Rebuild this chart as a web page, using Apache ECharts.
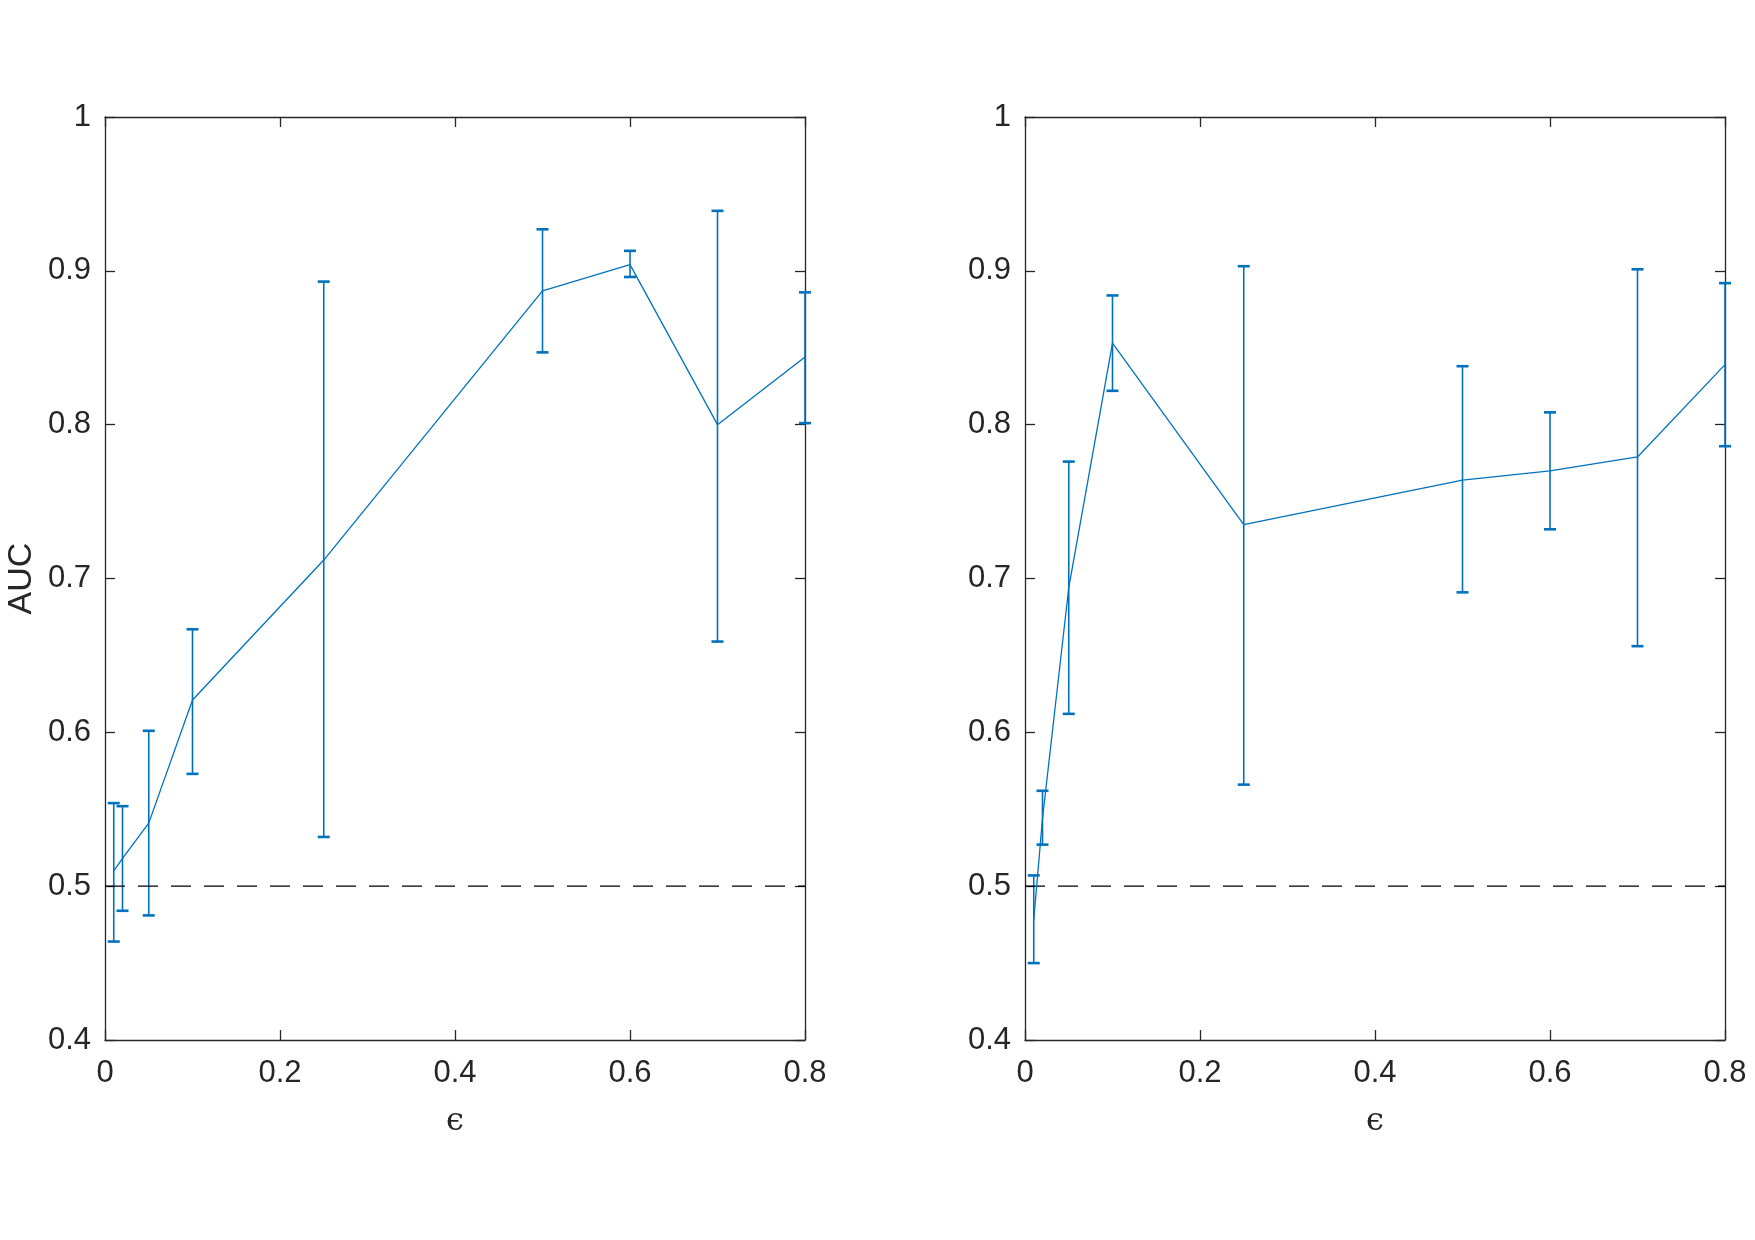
<!DOCTYPE html>
<html>
<head>
<meta charset="utf-8">
<title>AUC vs epsilon</title>
<script src="https://cdn.jsdelivr.net/npm/echarts@6/dist/echarts.min.js"></script>
<style>
    html, body { margin: 0; padding: 0; background: #fff; }
    #main { width: 1755px; height: 1240px; }
</style>
</head>
<body>
<div id="main"></div>
<script>
// data
var epsilon = [0.01, 0.02, 0.05, 0.1, 0.25, 0.5, 0.6, 0.7, 0.8]

var leftMean = [0.510, 0.518, 0.541, 0.621, 0.712, 0.887, 0.904, 0.800, 0.844]
var leftLow = [0.464, 0.484, 0.481, 0.573, 0.532, 0.847, 0.896, 0.659, 0.801]
var leftHigh = [0.554, 0.552, 0.601, 0.667, 0.893, 0.927, 0.913, 0.939, 0.886]

var rightMean = [0.478, 0.544, 0.694, 0.853, 0.735, 0.764, 0.770, 0.779, 0.839]
var rightLow = [0.450, 0.527, 0.612, 0.822, 0.566, 0.691, 0.732, 0.656, 0.786]
var rightHigh = [0.507, 0.562, 0.776, 0.884, 0.903, 0.838, 0.808, 0.901, 0.892]

var chanceLevel = 0.5
var xTicks = [0, 0.2, 0.4, 0.6, 0.8]
var yTicks = [0.4, 0.5, 0.6, 0.7, 0.8, 0.9, 1]

;(function () {
    var blue = '#0072BD'
    var axisColor = '#262626'
    var font = '"Liberation Sans", Arial, Helvetica, sans-serif'

    function pairs(xs, ys) {
        return xs.map(function (x, i) { return [x, ys[i]] })
    }

    function bars(xs, lo, hi) {
        return xs.map(function (x, i) { return [x, lo[i], hi[i]] })
    }

    function errorBarItem(params, api) {
        var x = api.value(0)
        var lo = api.coord([x, api.value(1)])
        var hi = api.coord([x, api.value(2)])
        var half = 6
        return {
            type: 'group',
            children: [
                {type: 'line', shape: {x1: lo[0], y1: lo[1], x2: hi[0], y2: hi[1]},
                    style: {stroke: blue, lineWidth: 1.6}},
                {type: 'line', shape: {x1: hi[0] - half, y1: hi[1], x2: hi[0] + half, y2: hi[1]},
                    style: {stroke: blue, lineWidth: 2.6}},
                {type: 'line', shape: {x1: lo[0] - half, y1: lo[1], x2: lo[0] + half, y2: lo[1]},
                    style: {stroke: blue, lineWidth: 2.6}}
            ]
        }
    }

    function xAxisFor(grid, pos, withName) {
        return {
            type: 'value',
            gridIndex: grid,
            position: pos,
            min: xTicks[0],
            max: xTicks[xTicks.length - 1],
            interval: 0.2,
            name: withName ? '\u03F5' : '',
            nameLocation: 'middle',
            nameGap: 66,
            nameTextStyle: {fontFamily: '"DejaVu Serif", "Liberation Serif", serif', fontSize: 32, color: axisColor},
            axisLine: {show: true, onZero: false, lineStyle: {color: axisColor, width: 1.3}},
            axisTick: {show: true, inside: true, length: 10, lineStyle: {color: axisColor, width: 1.3}},
            axisLabel: {show: pos === 'bottom', margin: 18, fontSize: 31, fontFamily: font, color: axisColor},
            splitLine: {show: false}
        }
    }

    function yAxisFor(grid, pos, withName) {
        return {
            type: 'value',
            gridIndex: grid,
            position: pos,
            min: yTicks[0],
            max: yTicks[yTicks.length - 1],
            interval: 0.1,
            name: withName ? 'AUC' : '',
            nameLocation: 'middle',
            nameGap: 66,
            nameRotate: 90,
            nameTextStyle: {fontFamily: font, fontSize: 34, color: axisColor},
            axisLine: {show: true, onZero: false, lineStyle: {color: axisColor, width: 1.3}},
            axisTick: {show: true, inside: true, length: 10, lineStyle: {color: axisColor, width: 1.3}},
            axisLabel: {show: pos === 'left', margin: 14, fontSize: 31, fontFamily: font, color: axisColor},
            splitLine: {show: false}
        }
    }

    function panelSeries(idx, mean, low, high) {
        return [
            {
                type: 'line',
                xAxisIndex: idx * 2,
                yAxisIndex: idx * 2,
                data: [[xTicks[0], chanceLevel], [xTicks[xTicks.length - 1], chanceLevel]],
                symbol: 'none',
                silent: true,
                lineStyle: {color: '#000', width: 1.3, type: [20, 13]}
            },
            {
                type: 'line',
                xAxisIndex: idx * 2,
                yAxisIndex: idx * 2,
                data: pairs(epsilon, mean),
                symbol: 'none',
                lineStyle: {color: blue, width: 1.3}
            },
            {
                type: 'custom',
                xAxisIndex: idx * 2,
                yAxisIndex: idx * 2,
                data: bars(epsilon, low, high),
                encode: {x: 0, y: [1, 2]},
                clip: false,
                renderItem: errorBarItem
            }
        ]
    }

    var chart = echarts.init(document.getElementById('main'))
    chart.setOption({
        animation: false,
        backgroundColor: '#fff',
        grid: [
            {left: 105, top: 117, width: 700, height: 923},
            {left: 1025, top: 117, width: 700, height: 923}
        ],
        xAxis: [
            xAxisFor(0, 'bottom', true),
            xAxisFor(0, 'top', false),
            xAxisFor(1, 'bottom', true),
            xAxisFor(1, 'top', false)
        ],
        yAxis: [
            yAxisFor(0, 'left', true),
            yAxisFor(0, 'right', false),
            yAxisFor(1, 'left', false),
            yAxisFor(1, 'right', false)
        ],
        series: panelSeries(0, leftMean, leftLow, leftHigh)
            .concat(panelSeries(1, rightMean, rightLow, rightHigh))
    })
})();
</script>
</body>
</html>
